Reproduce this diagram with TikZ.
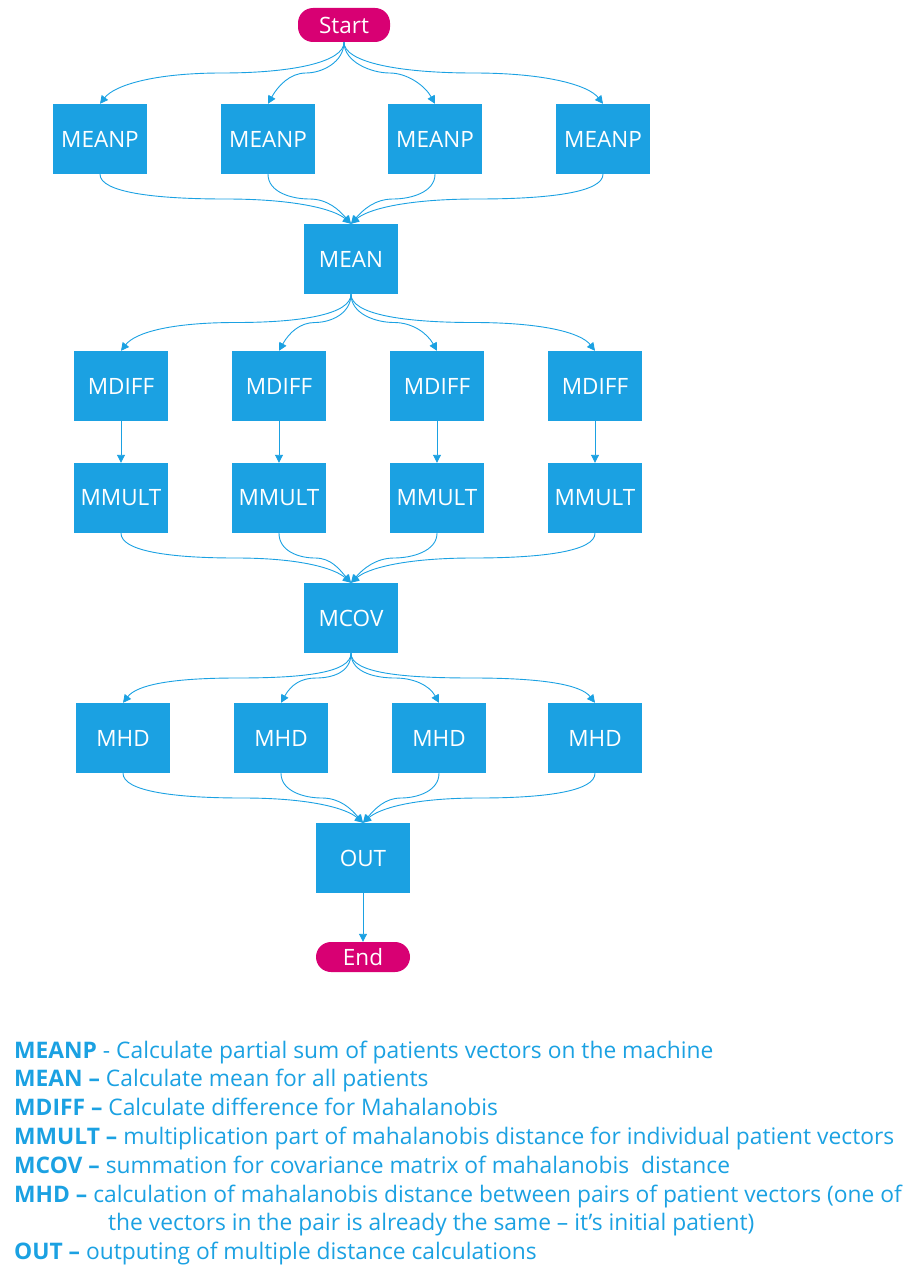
\documentclass[tikz,border=0pt]{standalone}
\usepackage{fontspec}
\setmainfont{Open Sans}
\usetikzlibrary{arrows.meta,calc}
\definecolor{az}{HTML}{1BA1E2}
\definecolor{pk}{HTML}{D80073}
\begin{document}
\begin{tikzpicture}[x=1pt,y=-1pt,
  box/.style={fill=az, draw=none, minimum width=94pt, minimum height=70pt, inner sep=0pt, text=white, font=\fontsize{22.5}{26}\selectfont},
  pill/.style={fill=pk, draw=none, rounded corners=15pt, inner sep=0pt, text=white, font=\fontsize{22.5}{26}\selectfont},
  flow/.style={draw=az, line width=0.9pt, -{Triangle[length=8pt,width=8pt]}},
  legend/.style={anchor=base west, inner sep=0pt, text=az, font=\fontsize{22.8}{26}\selectfont}]
\useasboundingbox (0,0) rectangle (920,1279);

\node[pill, minimum width=92pt, minimum height=34pt] (start) at (344,25) {Start};
\node[box] (p1) at (100,139) {MEANP};
\node[box] (p2) at (268,139) {MEANP};
\node[box] (p3) at (435,139) {MEANP};
\node[box] (p4) at (603,139) {MEANP};
\node[box] (mean) at (351,259) {MEAN};
\node[box] (d1) at (121,386) {MDIFF};
\node[box] (d2) at (279,386) {MDIFF};
\node[box] (d3) at (437,386) {MDIFF};
\node[box] (d4) at (595,386) {MDIFF};
\node[box] (m1) at (121,498) {MMULT};
\node[box] (m2) at (279,498) {MMULT};
\node[box] (m3) at (437,498) {MMULT};
\node[box] (m4) at (595,498) {MMULT};
\node[box] (cov) at (351,618) {MCOV};
\node[box] (h1) at (123,738) {MHD};
\node[box] (h2) at (281,738) {MHD};
\node[box] (h3) at (439,738) {MHD};
\node[box] (h4) at (595,738) {MHD};
\node[box] (out) at (363,858) {OUT};
\node[pill, minimum width=94pt, minimum height=30pt] (end) at (363,957) {End};

% fan-out
\foreach \s/\t/\h/\e in {start/p1/70/14, start/p2/16/10, start/p3/-18/-10, start/p4/-75/-14,
                          mean/d1/66/14, mean/d2/15/10, mean/d3/-18/-10, mean/d4/-70/-14,
                          cov/h1/65/14, cov/h2/15/10, cov/h3/-18/-10, cov/h4/-70/-14}
  \draw[flow] (\s.south) .. controls +(0,20) and +(\h,0) .. ($(\s.south)!.5!(\t.north)$)
     .. controls +(-\h,0) and +(\e,-18) .. (\t.north);
% fan-in
\foreach \s/\t/\h/\e in {p1/mean/-72/-16, p2/mean/-18/-12, p3/mean/18/12, p4/mean/73/16,
                          m1/cov/-66/-16, m2/cov/-16/-12, m3/cov/18/12, m4/cov/70/16,
                          h1/out/-69/-16, h2/out/-18/-12, h3/out/16/12, h4/out/67/16}
  \draw[flow] (\s.south) .. controls +(0,18) and +(\h,0) .. ($(\s.south)!.5!(\t.north)$)
     .. controls +(-\h,0) and +(\e,-14) .. (\t.north);
% straight
\foreach \i in {1,2,3,4}
  \draw[flow] (d\i.south) -- (m\i.north);
\draw[flow] (out.south) -- (end.north);

% legend
\node[legend] (l1) at (14,1058) {\textbf{MEANP} - Calculate partial sum of patients vectors on the machine};
\node[legend] (l2) at (14,1086) {\textbf{MEAN –} Calculate mean for all patients};
\node[legend] (l3) at (14,1115) {\textbf{MDIFF –} Calculate difference for Mahalanobis};
\node[legend] (l4) at (14,1144) {\textbf{MMULT –} multiplication part of mahalanobis distance for individual patient vectors};
\node[legend] (l5) at (14,1173) {\textbf{MCOV –} summation for covariance matrix of mahalanobis\ \ distance};
\node[legend] (l6) at (14,1202) {\textbf{MHD –} calculation of mahalanobis distance between pairs of patient vectors (one of};
\node[legend] (l7) at (108,1230) {the vectors in the pair is already the same – it’s initial patient)};
\node[legend] (l8) at (14,1259) {\textbf{OUT –} outputing of multiple distance calculations};
\end{tikzpicture}
\end{document}
